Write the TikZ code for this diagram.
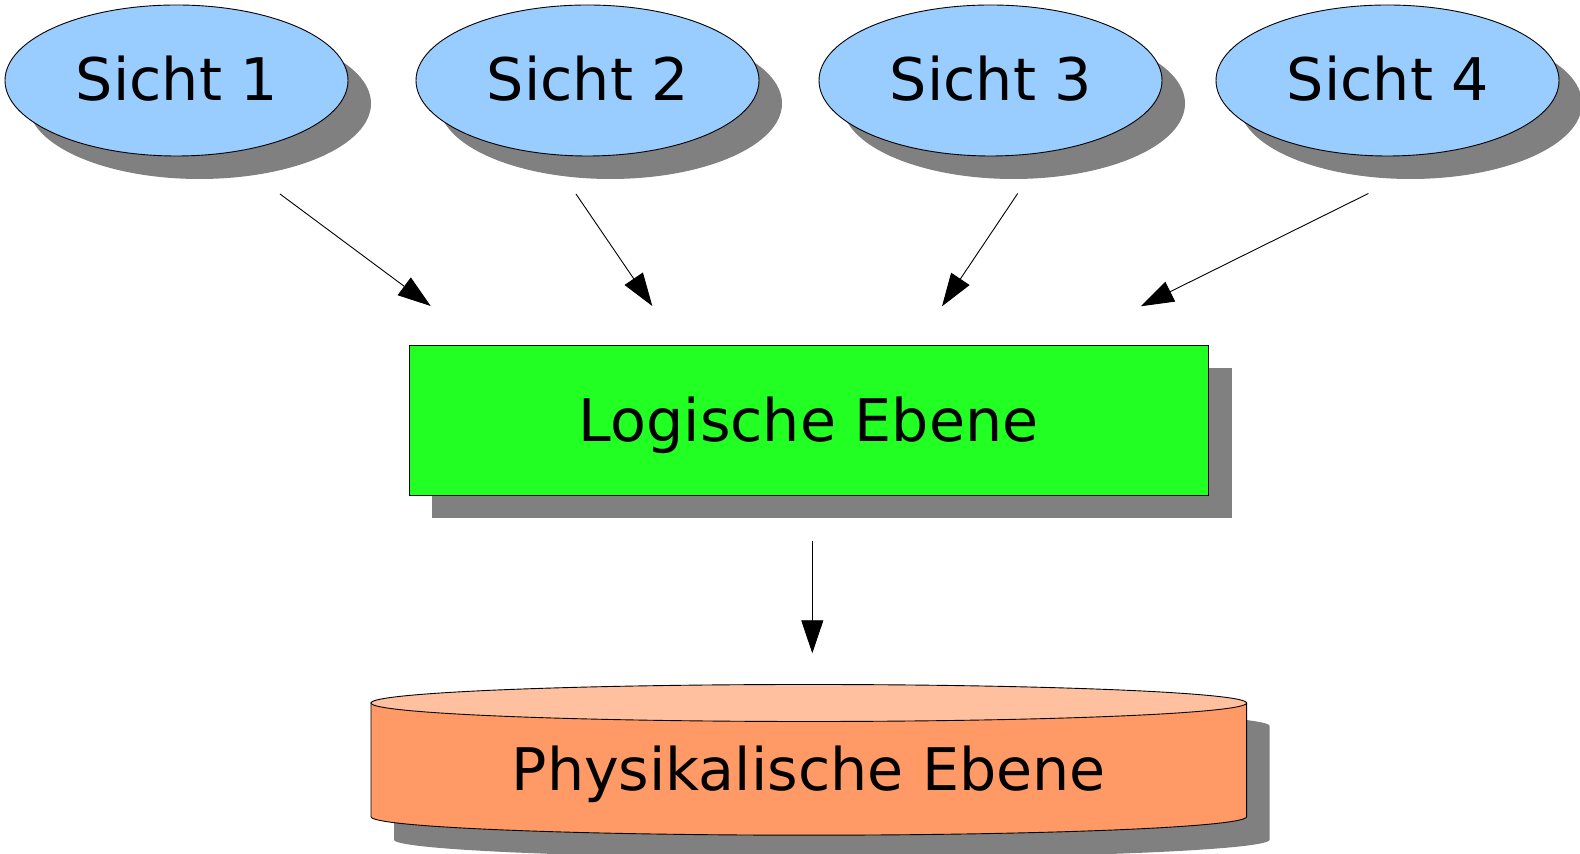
\documentclass[tikz,border=0pt]{standalone}
\usepackage{fontspec}
\setmainfont{DejaVu Sans}
\usetikzlibrary{shapes.geometric,shadows,arrows.meta}
\definecolor{sichtblue}{HTML}{99CCFF}
\definecolor{loggreen}{HTML}{22FF22}
\definecolor{cylside}{HTML}{FF9966}
\definecolor{cyltop}{HTML}{FFC0A0}
\definecolor{shadowgray}{HTML}{808080}
\tikzset{
  myshadow/.style={drop shadow={shadow xshift=23pt, shadow yshift=-23pt, fill=shadowgray, opacity=1}},
  sicht/.style={ellipse, draw=black, line width=0.9pt, fill=sichtblue, minimum width=343pt, minimum height=151pt, inner sep=0pt, myshadow},
  logbox/.style={rectangle, draw=black, line width=0.9pt, fill=loggreen, minimum width=799.5pt, minimum height=150pt, inner sep=0pt, myshadow},
  bigtext/.style={font=\fontsize{58.7pt}{60pt}\selectfont, anchor=base, inner sep=0pt},
  conn/.style={line width=0.9pt, -{Triangle[length=33pt,width=22pt]}},
  cylline/.style={draw=black, line width=0.9pt}
}
\begin{document}
\begin{tikzpicture}[x=1pt,y=1pt]
\useasboundingbox (0,0) rectangle (1580,854);
% views
\node[sicht] (s1) at (176.5,773.5) {};
\node[sicht] (s2) at (587.5,773.5) {};
\node[sicht] (s3) at (990.5,773.5) {};
\node[sicht] (s4) at (1387.5,773.5) {};
\node[bigtext] (t1) at (177,753) {Sicht 1};
\node[bigtext] (t2) at (588,753) {Sicht 2};
\node[bigtext] (t3) at (991,753) {Sicht 3};
\node[bigtext] (t4) at (1388,753) {Sicht 4};
% logical level
\node[logbox] (log) at (808.75,434) {};
\node[bigtext] (tlog) at (808.75,412.6) {Logische Ebene};
% physical level (cylinder)
\fill[shadowgray] (394,128) -- (394,14.3) arc[start angle=180,end angle=360,x radius=437.8,y radius=18.5] -- (1269.6,128) arc[start angle=0,end angle=180,x radius=437.8,y radius=18.5] -- cycle;
\filldraw[cylline, fill=cylside] (371,151) -- (371,37.3) arc[start angle=180,end angle=360,x radius=437.8,y radius=18.5] -- (1246.6,151) -- cycle;
\filldraw[cylline, fill=cyltop] (808.8,151) ellipse [x radius=437.8, y radius=18.5];
\node[bigtext] (phys) at (808.8,63) {Physikalische Ebene};
% connectors
\coordinate (a1s) at (280,660);   \coordinate (a1e) at (430.7,548);
\coordinate (a2s) at (576,660);   \coordinate (a2e) at (652.3,548);
\coordinate (a3s) at (1017.7,660.5); \coordinate (a3e) at (942,547.7);
\coordinate (a4s) at (1368.4,660.5); \coordinate (a4e) at (1140.7,547.7);
\coordinate (a5s) at (812.3,313);  \coordinate (a5e) at (812.3,200.7);
\draw[conn] (a1s) -- (a1e);
\draw[conn] (a2s) -- (a2e);
\draw[conn] (a3s) -- (a3e);
\draw[conn] (a4s) -- (a4e);
\draw[conn] (a5s) -- (a5e);
\end{tikzpicture}
\end{document}
